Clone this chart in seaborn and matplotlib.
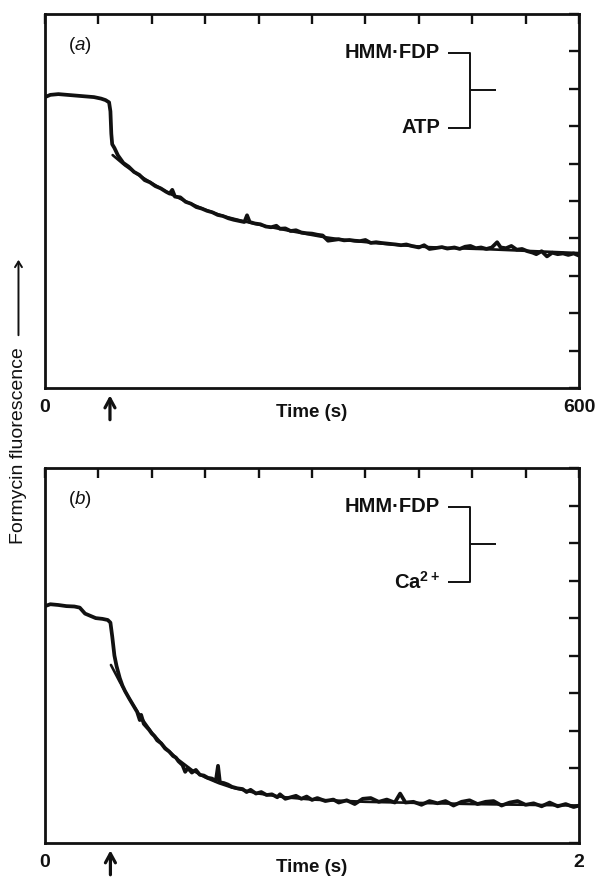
import numpy as np
import pandas as pd
import matplotlib
matplotlib.use("Agg")
import matplotlib.pyplot as plt
import seaborn as sns

# ---------------------
# Data (arbitrary fluorescence units, 0-10 scale)
# ---------------------
# Panel (a): HMM.FDP + ATP, time in s
t_a = [0, 6, 15, 25, 35, 45, 55, 63, 68, 72, 73.5, 74.5, 75.5, 78, 82, 88, 94, 100, 106, 112,
       118, 124, 130, 136, 140, 143, 146, 152, 158, 164, 170, 176, 182, 188, 194, 200, 206, 212,
       218, 224, 227, 230, 236, 242, 248, 254, 260, 264, 270, 276, 282, 288, 294, 300, 306, 312,
       318, 324, 330, 336, 342, 348, 354, 360, 366, 372, 378, 386, 394, 400, 406, 412, 420, 426,
       432, 438, 446, 452, 460, 466, 472, 478, 484, 490, 496, 502, 508, 512, 518, 524, 530, 536,
       542, 548, 552, 558, 564, 570, 576, 582, 588, 594, 600]
f_a = [7.78, 7.84, 7.86, 7.84, 7.82, 7.80, 7.78, 7.74, 7.70, 7.64, 7.40, 6.80, 6.52, 6.42, 6.22,
       6.02, 5.92, 5.78, 5.70, 5.56, 5.50, 5.40, 5.34, 5.25, 5.20, 5.30, 5.12, 5.10, 4.98, 4.93,
       4.84, 4.80, 4.74, 4.70, 4.63, 4.60, 4.54, 4.50, 4.47, 4.44, 4.62, 4.44, 4.40, 4.38, 4.32,
       4.30, 4.34, 4.26, 4.27, 4.20, 4.22, 4.16, 4.14, 4.13, 4.10, 4.08, 3.94, 3.96, 3.98, 3.95,
       3.96, 3.94, 3.93, 3.96, 3.88, 3.90, 3.88, 3.86, 3.84, 3.82, 3.84, 3.80, 3.76, 3.82, 3.72,
       3.74, 3.77, 3.73, 3.76, 3.72, 3.78, 3.80, 3.74, 3.76, 3.72, 3.76, 3.90, 3.76, 3.74, 3.80,
       3.70, 3.72, 3.66, 3.62, 3.58, 3.66, 3.52, 3.62, 3.58, 3.60, 3.56, 3.60, 3.54]
fit_t_a = [76, 90, 105, 120, 140, 160, 180, 200, 225, 250, 280, 310, 340, 370, 400, 430, 460,
           500, 540, 570, 600]
fit_a = [6.23, 5.95, 5.70, 5.48, 5.20, 4.97, 4.77, 4.60, 4.45, 4.32, 4.18, 4.05, 3.95, 3.88,
         3.82, 3.77, 3.74, 3.71, 3.67, 3.64, 3.61]

# Panel (b): HMM.FDP + Ca2+, time in s
t_b = [0, 0.02, 0.05, 0.08, 0.11, 0.13, 0.15, 0.17, 0.19, 0.215, 0.235, 0.245, 0.252, 0.26,
       0.268, 0.28, 0.29, 0.30, 0.315, 0.33, 0.345, 0.355, 0.36, 0.37, 0.38, 0.39, 0.40, 0.41,
       0.42, 0.435, 0.45, 0.465, 0.48, 0.49, 0.50, 0.515, 0.525, 0.535, 0.55, 0.565, 0.58, 0.595,
       0.61, 0.625, 0.64, 0.648, 0.655, 0.67, 0.685, 0.70, 0.72, 0.74, 0.755, 0.77, 0.79, 0.81,
       0.83, 0.85, 0.87, 0.88, 0.90, 0.92, 0.94, 0.96, 0.98, 1.00, 1.02, 1.05, 1.08, 1.10, 1.13,
       1.16, 1.19, 1.22, 1.25, 1.28, 1.31, 1.33, 1.35, 1.38, 1.41, 1.44, 1.47, 1.50, 1.53, 1.56,
       1.59, 1.62, 1.65, 1.68, 1.71, 1.74, 1.77, 1.80, 1.83, 1.86, 1.89, 1.92, 1.95, 1.98, 2.00]
f_b = [6.32, 6.37, 6.35, 6.32, 6.31, 6.28, 6.12, 6.06, 6.00, 5.98, 5.95, 5.88, 5.50, 5.00,
       4.72, 4.40, 4.20, 4.05, 3.86, 3.68, 3.50, 3.28, 3.42, 3.18, 3.10, 3.02, 2.92, 2.85, 2.74,
       2.66, 2.52, 2.44, 2.32, 2.28, 2.18, 2.08, 1.90, 2.00, 1.88, 1.95, 1.82, 1.80, 1.74, 1.72,
       1.66, 2.06, 1.62, 1.60, 1.56, 1.50, 1.46, 1.44, 1.36, 1.42, 1.32, 1.36, 1.28, 1.30, 1.22,
       1.30, 1.18, 1.22, 1.26, 1.18, 1.24, 1.15, 1.20, 1.12, 1.16, 1.08, 1.14, 1.04, 1.18, 1.20,
       1.10, 1.16, 1.08, 1.32, 1.08, 1.10, 1.02, 1.12, 1.06, 1.12, 1.00, 1.10, 1.14, 1.04, 1.10,
       1.12, 1.00, 1.08, 1.12, 1.02, 1.06, 0.98, 1.08, 0.98, 1.04, 0.96, 1.00]
fit_t_b = [0.247, 0.28, 0.32, 0.36, 0.40, 0.45, 0.50, 0.55, 0.60, 0.65, 0.70, 0.80, 0.90, 1.0,
           1.2, 1.4, 1.6, 1.8, 2.0]
fit_b = [4.75, 4.30, 3.80, 3.35, 2.95, 2.55, 2.22, 1.95, 1.75, 1.60, 1.48, 1.32, 1.22, 1.16,
         1.10, 1.07, 1.04, 1.02, 1.00]

panels = [
    dict(t=t_a, f=f_a, fit_t=fit_t_a, fit=fit_a, xmax=600, xlabel_end="600",
         mix=73, tag="a", reagent="ATP"),
    dict(t=t_b, f=f_b, fit_t=fit_t_b, fit=fit_b, xmax=2, xlabel_end="2",
         mix=0.245, tag="b", reagent="Ca$^{2+}$"),
]

sns.set_theme(style="white")
plt.rcParams["font.family"] = ["Liberation Sans", "DejaVu Sans"]
plt.rcParams["mathtext.fontset"] = "custom"
plt.rcParams["mathtext.rm"] = "Liberation Sans:bold"
plt.rcParams["mathtext.it"] = "Liberation Sans:italic"
plt.rcParams["mathtext.bf"] = "Liberation Sans:bold"

fig = plt.figure(figsize=(5.96, 8.80), dpi=100)
ax_a = fig.add_axes([0.0755, 0.559, 0.896, 0.425])
ax_b = fig.add_axes([0.0755, 0.042, 0.896, 0.426])

ink = "#111111"
for ax, p in zip([ax_a, ax_b], panels):
    df = pd.DataFrame({"t": p["t"], "f": p["f"]})
    fit_df = pd.DataFrame({"t": p["fit_t"], "f": p["fit"]})
    sns.lineplot(data=df, x="t", y="f", ax=ax, color=ink, lw=2.7,
                 estimator=None, sort=False)
    sns.lineplot(data=fit_df, x="t", y="f", ax=ax, color=ink, lw=1.9,
                 estimator=None, sort=False)

    ax.set_xlim(0, p["xmax"])
    ax.set_ylim(0, 10)
    xt = np.linspace(0, p["xmax"], 11)
    ax.set_xticks(xt)
    ax.set_xticklabels(["0"] + [""] * 9 + [p["xlabel_end"]])
    ax.set_yticks(range(0, 11))
    ax.set_yticklabels([])
    ax.tick_params(direction="in", top=True, right=True, length=7, width=1.7,
                   color=ink, pad=8, labelsize=14, labelcolor=ink)
    for lbl in ax.get_xticklabels():
        lbl.set_fontweight("bold")
    for s in ax.spines.values():
        s.set_linewidth(2.0)
        s.set_color(ink)
    ax.set_xlabel("")
    ax.set_ylabel("")

    ax.text(0.5, -0.066, "Time (s)", transform=ax.transAxes, ha="center", va="center",
            fontsize=13.5, fontweight="bold", color=ink)
    # mixing arrow below the axis
    ax.annotate("", xy=(p["mix"], -0.012), xytext=(p["mix"], -0.092),
                xycoords=ax.get_xaxis_transform(), textcoords=ax.get_xaxis_transform(),
                arrowprops=dict(arrowstyle="->,head_length=0.55,head_width=0.3",
                                lw=2.3, color=ink), annotation_clip=False)

    ax.text(0.066, 0.917, r"($\mathit{" + p["tag"] + r"}$)", transform=ax.transAxes,
            ha="center", va="center", fontsize=13.5, color=ink)

    # reagent bracket
    x0, x1, x2 = 0.755, 0.796, 0.845
    yt, ym, yb = 0.897, 0.797, 0.696
    kw = dict(transform=ax.transAxes, color=ink, lw=1.4, solid_capstyle="butt")
    ax.plot([x0, x1, x1, x0], [yt, yt, yb, yb], **kw)
    ax.plot([x1, x2], [ym, ym], **kw)
    ax.text(0.740, yt, "HMM·FDP", transform=ax.transAxes, ha="right", va="center",
            fontsize=14.5, fontweight="bold", color=ink)
    ax.text(0.740, yb, p["reagent"], transform=ax.transAxes, ha="right", va="center",
            fontsize=14.5, fontweight="bold", color=ink)

fig.text(0.031, 0.494, "Formycin fluorescence", rotation=90, ha="center", va="center",
         fontsize=14, color=ink)
fig.add_artist(matplotlib.patches.FancyArrowPatch(
    (0.031, 1 - 338 / 880), (0.031, 1 - 257 / 880), transform=fig.transFigure,
    arrowstyle="->,head_length=4,head_width=2.5", lw=1.4, color=ink))

fig.savefig("out.png", dpi=100)
